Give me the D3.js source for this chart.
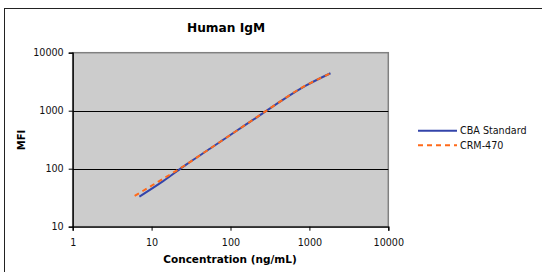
<!DOCTYPE html>
<html>
<head>
<meta charset="utf-8">
<script src="https://cdn.jsdelivr.net/npm/d3@7"></script>
<style>
  body { margin: 0; background: #fff; }
</style>
</head>
<body>
<div id="chart"></div>
<script>
const stdConc = [7, 14, 28, 56, 112, 225, 450, 900, 1850];
const stdMfi = [33, 61, 120, 225, 425, 800, 1510, 2700, 4420];
const crmConc = [6.1, 12.2, 24.5, 49, 98, 196, 392, 784, 1850];
const crmMfi = [34, 60, 107, 200, 376, 708, 1335, 2455, 4400];
const xTicks = [1, 10, 100, 1000, 10000];
const yTicks = [10, 100, 1000, 10000];
const seriesNames = ["CBA Standard", "CRM-470"];

const width = 542, height = 272;
const font = "DejaVu Sans, Verdana, sans-serif";
const plot = { left: 72.7, right: 388.3, top: 52.7, bottom: 226.7 };

const svg = d3.select("#chart").append("svg")
  .attr("width", width).attr("height", height);

// outer frame
svg.append("rect")
  .attr("x", 4.5).attr("y", 8.5)
  .attr("width", 700).attr("height", 400)
  .attr("fill", "#fff").attr("stroke", "#222");

const x = d3.scaleLog().domain([1, 10000]).range([plot.left, plot.right]);
const y = d3.scaleLog().domain([10, 10000]).range([plot.bottom, plot.top]);

// plot area
svg.append("rect")
  .attr("x", plot.left).attr("y", plot.top)
  .attr("width", plot.right - plot.left).attr("height", plot.bottom - plot.top)
  .attr("fill", "#cccccc").attr("stroke", "#808080").attr("stroke-width", 1.5);

// gridlines
svg.append("g")
  .selectAll("line")
  .data(yTicks.slice(1, -1))
  .join("line")
  .attr("x1", plot.left).attr("x2", plot.right)
  .attr("y1", d => Math.round(y(d)) + 0.5).attr("y2", d => Math.round(y(d)) + 0.5)
  .attr("stroke", "#000").attr("stroke-width", 1.2);

// axes
const yAxis = svg.append("g")
  .attr("transform", `translate(${plot.left},0)`)
  .call(d3.axisLeft(y).tickValues(yTicks).tickFormat(d3.format("d")).tickSize(4).tickPadding(5));
const xAxis = svg.append("g")
  .attr("transform", `translate(0,${plot.bottom})`)
  .call(d3.axisBottom(x).tickValues(xTicks).tickFormat(d3.format("d")).tickSize(4).tickPadding(8));

[yAxis, xAxis].forEach(g => {
  g.select(".domain").attr("stroke", "#000").attr("stroke-width", 1.3);
  g.selectAll(".tick line").attr("stroke", "#000");
  g.selectAll(".tick text")
    .attr("font-family", font).attr("font-size", 9.6).attr("fill", "#111");
});

// series lines
const line = d3.line().x(d => x(d[0])).y(d => y(d[1])).curve(d3.curveMonotoneX);
const stdData = d3.zip(stdConc, stdMfi);
const crmData = d3.zip(crmConc, crmMfi);

svg.append("path")
  .attr("d", line(stdData))
  .attr("fill", "none").attr("stroke", "#3344aa").attr("stroke-width", 2);
svg.append("path")
  .attr("d", line(crmData))
  .attr("fill", "none").attr("stroke", "#ff6a1a").attr("stroke-width", 2)
  .attr("stroke-dasharray", "5,4");

// title
svg.append("text")
  .attr("x", 226).attr("y", 32)
  .attr("text-anchor", "middle")
  .attr("font-family", font).attr("font-weight", "bold").attr("font-size", 12.2)
  .text("Human IgM");

// axis titles
svg.append("text")
  .attr("x", 230).attr("y", 262.5)
  .attr("text-anchor", "middle")
  .attr("font-family", font).attr("font-weight", "bold").attr("font-size", 10.5)
  .text("Concentration (ng/mL)");

svg.append("text")
  .attr("transform", "translate(25,140) rotate(-90)")
  .attr("text-anchor", "middle")
  .attr("font-family", font).attr("font-weight", "bold").attr("font-size", 10)
  .text("MFI");

// legend
const legend = svg.append("g");
const legendStyles = [
  { color: "#3344aa", dash: null },
  { color: "#ff6a1a", dash: "5,4" }
];
seriesNames.forEach((name, i) => {
  const ly = 130.7 + i * 14.5;
  legend.append("line")
    .attr("x1", 418).attr("x2", 457)
    .attr("y1", ly).attr("y2", ly)
    .attr("stroke", legendStyles[i].color).attr("stroke-width", 2)
    .attr("stroke-dasharray", legendStyles[i].dash);
  legend.append("text")
    .attr("x", 460).attr("y", ly + 3.6)
    .attr("font-family", font).attr("font-size", 9.6).attr("fill", "#111")
    .text(name);
});
</script>
</body>
</html>
